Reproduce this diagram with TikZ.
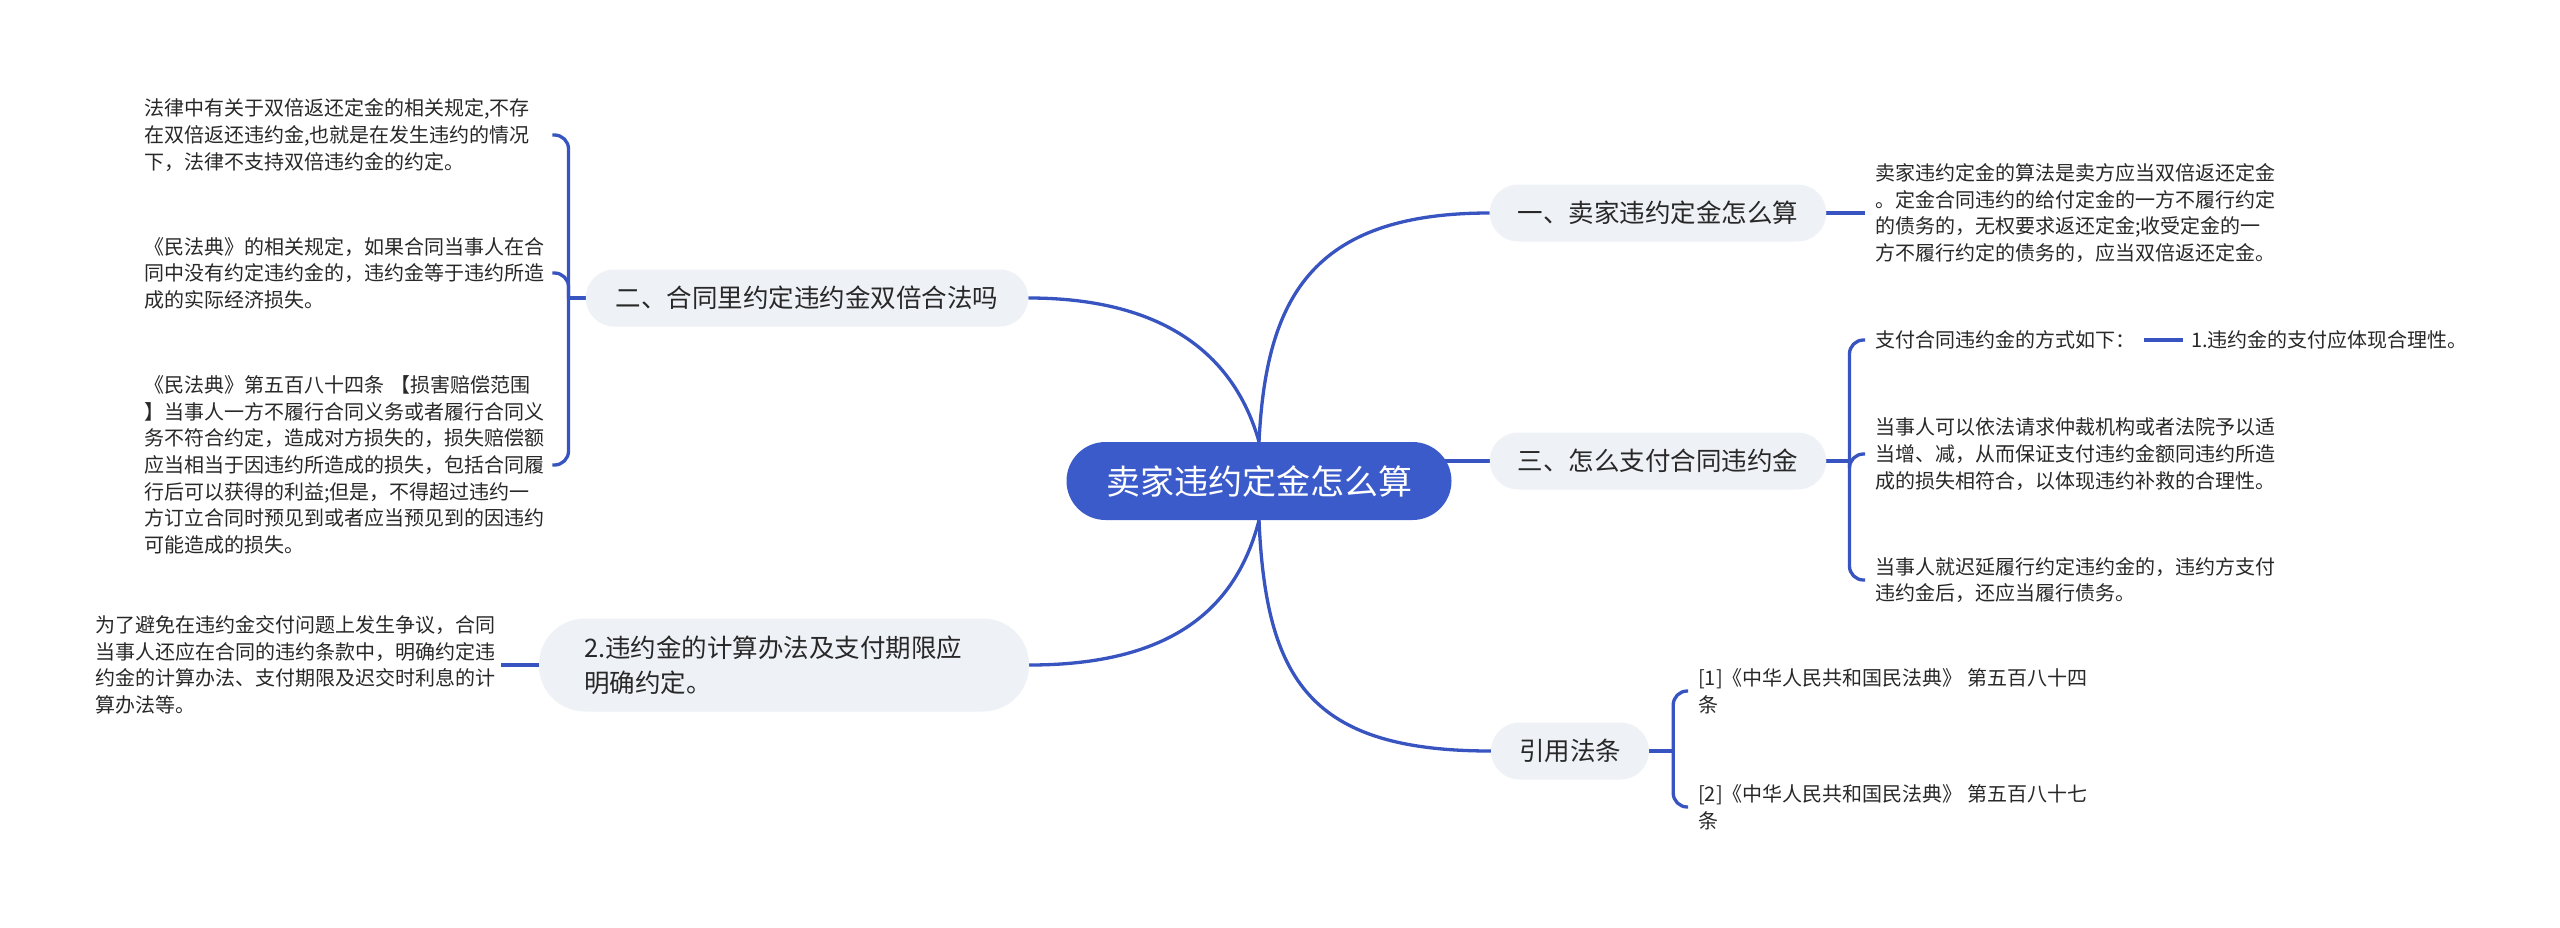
\documentclass[tikz,border=0pt]{standalone}
\usepackage{fontspec}
\setmainfont{Noto Sans CJK SC}
\usetikzlibrary{backgrounds}
\definecolor{linec}{RGB}{56,84,192}
\definecolor{rootc}{RGB}{60,91,202}
\definecolor{boxc}{RGB}{238,241,245}
\definecolor{txt}{RGB}{40,40,40}
\begin{document}
\begin{tikzpicture}[x=1pt,y=-1pt,
 body/.style={font=\fontsize{20}{26.6}\selectfont,text=txt,align=left,inner sep=0pt,anchor=west},
 lbody/.style={body,text width=400pt},
 branch/.style={fill=boxc,rounded corners=28.5pt,minimum height=57pt,inner xsep=28pt,font=\fontsize{25.5}{34}\selectfont,text=txt},
 link/.style={draw=linec,line width=3.3pt},
 bracket/.style={link,rounded corners=14pt}]
\useasboundingbox (0,0) rectangle (2560,927);
% nodes
\node[fill=rootc, rounded corners=39pt, minimum width=385pt, minimum height=78pt, text=white, font=\fontsize{34}{40}\selectfont] (root) at (1259,481) {卖家违约定金怎么算};
\node[branch] (yi) at (1658,213) {一、卖家违约定金怎么算};
\node[branch] (san) at (1658,461) {三、怎么支付合同违约金};
\node[branch] (yin) at (1570,751) {引用法条};
\node[branch, inner xsep=30pt] (er) at (807,298) {二、合同里约定违约金双倍合法吗};
\node[branch, text width=400pt, align=left, inner xsep=45pt, minimum height=93pt, rounded corners=46pt, font=\fontsize{25.5}{35}\selectfont] (two) at (784,665) {2.违约金的计算办法及支付期限应\\明确约定。};
% right texts
\node[body] (t1) at (1875,213) {卖家违约定金的算法是卖方应当双倍返还定金\\。定金合同违约的给付定金的一方不履行约定\\的债务的，无权要求返还定金;收受定金的一\\方不履行约定的债务的，应当双倍返还定金。};
\node[body] (t31) at (1875,340) {支付合同违约金的方式如下：};
\node[body] (t311) at (2191,340) {1.违约金的支付应体现合理性。};
\node[body] (t32) at (1875,454) {当事人可以依法请求仲裁机构或者法院予以适\\当增、减，从而保证支付违约金额同违约所造\\成的损失相符合，以体现违约补救的合理性。};
\node[body] (t33) at (1875,580) {当事人就迟延履行约定违约金的，违约方支付\\违约金后，还应当履行债务。};
\node[body] (r1) at (1698,691) {[1]《中华人民共和国民法典》 第五百八十四\\条};
\node[body] (r2) at (1698,807) {[2]《中华人民共和国民法典》 第五百八十七\\条};
% left texts
\node[lbody] (l1) at (144,135) {法律中有关于双倍返还定金的相关规定,不存\\在双倍返还违约金,也就是在发生违约的情况\\下，法律不支持双倍违约金的约定。};
\node[lbody] (l2) at (144,273) {《民法典》的相关规定，如果合同当事人在合\\同中没有约定违约金的，违约金等于违约所造\\成的实际经济损失。};
\node[lbody] (l3) at (144,465) {《民法典》第五百八十四条 【损害赔偿范围\\】当事人一方不履行合同义务或者履行合同义\\务不符合约定，造成对方损失的，损失赔偿额\\应当相当于因违约所造成的损失，包括合同履\\行后可以获得的利益;但是，不得超过违约一\\方订立合同时预见到或者应当预见到的因违约\\可能造成的损失。};
\node[lbody] (l4) at (95,665) {为了避免在违约金交付问题上发生争议，合同\\当事人还应在合同的违约条款中，明确约定违\\约金的计算办法、支付期限及迟交时利息的计\\算办法等。};
% connectors
\begin{scope}[on background layer]
\fill[white] (0,0) rectangle (2560,927);
\draw[link] (root.north) .. controls (1266,300) and (1310,213) .. (yi.west);
\draw[link] (root.north) .. controls (1236,360) and (1170,298) .. (er.east);
\draw[link] (root.south) .. controls (1266,680) and (1310,751) .. (yin.west);
\draw[link] (root.south) .. controls (1236,610) and (1170,665) .. (two.east);
\draw[link] (san.west) -- (san.west -| root.center);
\draw[link] (yi.east) -- ([xshift=-10pt]t1.west);
\draw[link] (two.west) -- ([xshift=6pt]l4.east);
\draw[link] (san.east) -- ++(23,0) coordinate (j3);
\draw[bracket] (j3) |- ([xshift=-10pt]t31.west);
\draw[bracket] (j3) |- ([xshift=-10pt]t32.west);
\draw[bracket] (j3) |- ([xshift=-10pt]t33.west);
\draw[link] ([xshift=9pt]t31.east) -- ([xshift=-8pt]t311.west);
\draw[link] (yin.east) -- ++(24,0) coordinate (jy);
\draw[bracket] (jy) |- ([xshift=-10pt]r1.west);
\draw[bracket] (jy) |- ([xshift=-10pt]r2.west);
\draw[link] (er.west) -- ++(-17,0) coordinate (j2);
\draw[bracket] (j2) |- ([xshift=8pt]l1.east);
\draw[bracket] (j2) |- ([xshift=8pt]l2.east);
\draw[bracket] (j2) |- ([xshift=8pt]l3.east);
\end{scope}
\end{tikzpicture}
\end{document}
